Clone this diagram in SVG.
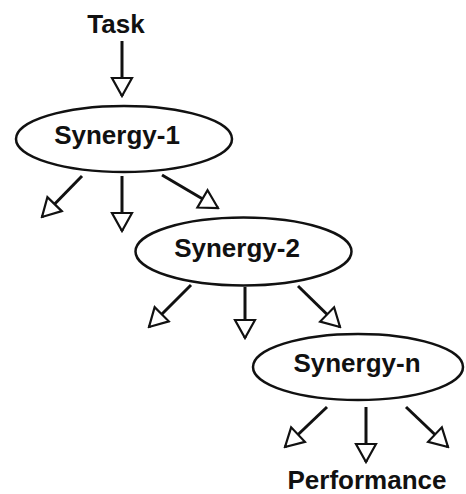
<svg xmlns="http://www.w3.org/2000/svg" width="466" height="494" viewBox="0 0 466 494">
<defs>
<style>
.lbl{font-family:"Liberation Sans",Arial,sans-serif;font-weight:bold;font-size:26px;fill:#111;text-anchor:middle}
.node{fill:#fff;stroke:#111;stroke-width:2.5}
.edge{stroke:#111;stroke-width:3;fill:none;marker-end:url(#head)}
</style>
<marker id="head" markerUnits="userSpaceOnUse" viewBox="-2 -2 22 24" markerWidth="22" markerHeight="24" refX="18" refY="10" orient="auto">
<path d="M0,0 L18,10 L0,20 Z" fill="#fff" stroke="#111" stroke-width="2.2" stroke-linejoin="miter"/>
</marker>
</defs>
<rect width="466" height="494" fill="#fff"/>
<g id="connectors">
<line class="edge" x1="122" y1="41" x2="122" y2="96"/>
<line class="edge" x1="82" y1="176" x2="42" y2="217"/>
<line class="edge" x1="122" y1="176" x2="122" y2="231"/>
<line class="edge" x1="162" y1="175" x2="218" y2="208"/>
<line class="edge" x1="191" y1="285" x2="149" y2="327"/>
<line class="edge" x1="245" y1="287" x2="245" y2="338"/>
<line class="edge" x1="298" y1="286" x2="340" y2="327"/>
<line class="edge" x1="327" y1="407" x2="285" y2="447"/>
<line class="edge" x1="366" y1="407" x2="366" y2="462"/>
<line class="edge" x1="406" y1="407" x2="448" y2="447"/>
</g>
<g id="task"><text class="lbl" x="116" y="33">Task</text></g>
<g id="synergy-1">
<ellipse class="node" cx="124" cy="139" rx="108" ry="33"/>
<text class="lbl" x="117" y="144">Synergy-1</text>
</g>
<g id="synergy-2">
<ellipse class="node" cx="243.5" cy="251.5" rx="108" ry="34"/>
<text class="lbl" x="237" y="257">Synergy-2</text>
</g>
<g id="synergy-n">
<ellipse class="node" cx="358" cy="367" rx="105" ry="33"/>
<text class="lbl" x="357" y="372">Synergy-n</text>
</g>
<g id="performance"><text class="lbl" x="367" y="489">Performance</text></g>
</svg>
